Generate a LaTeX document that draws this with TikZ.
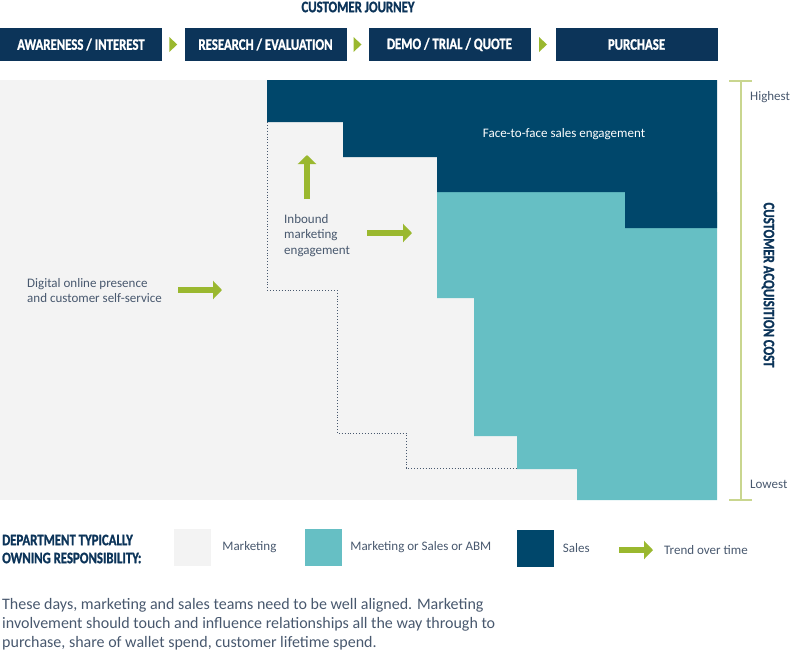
\documentclass[tikz,border=0pt]{standalone}
\usepackage{fontspec}
\setmainfont{Carlito}
\newfontfamily\condfont[FakeStretch=0.8,FakeBold=1.2]{Carlito Bold}
\usepackage{tikz}
\usetikzlibrary{positioning,arrows.meta,calc}
\usepackage{xcolor}
\definecolor{navy}{RGB}{12,52,89}
\definecolor{salesblue}{RGB}{0,71,107}
\definecolor{abmteal}{RGB}{102,191,196}
\definecolor{mktgrey}{RGB}{243,243,243}
\definecolor{trendgreen}{RGB}{154,184,47}
\definecolor{axisgreen}{RGB}{201,214,143}
\definecolor{textgrey}{RGB}{72,88,110}

\begin{document}
\begin{tikzpicture}[x=1pt,y=-1pt,
  hbox/.style={rectangle,fill=navy,text=white,inner sep=0pt,
    font=\condfont\fontsize{16}{18}\selectfont,minimum width=162pt,minimum height=33pt},
  htitle/.style={text=navy,font=\condfont\fontsize{16}{18}\selectfont,inner sep=0pt},
  blab/.style={text=textgrey,font=\fontsize{13}{15.5}\selectfont,align=left,inner sep=0pt},
  lsq/.style={rectangle,minimum width=37pt,minimum height=37pt,inner sep=0pt},
  trend/.style={-{Triangle[width=18pt,length=9pt]},trendgreen,line width=6pt},
  chev/.style={fill=trendgreen}
]
\useasboundingbox (0,0) rectangle (792,667);
% journey header
\node[htitle] (jt) at (358,7) {CUSTOMER JOURNEY};
\node[hbox] (j1) at (81,44.5) {AWARENESS / INTEREST};
\node[hbox] (j2) at (265.5,44.5) {RESEARCH / EVALUATION};
\node[hbox] (j3) at (449.5,44.5) {DEMO / TRIAL / QUOTE};
\node[hbox] (j4) at (636.5,44.5) {PURCHASE};
\foreach \a/\b in {j1/j2,j2/j3,j3/j4}{
  \coordinate (m) at ($(\a.east)!0.5!(\b.west)$);
  \fill[chev] ($(m)+(-4,-7.5)$) -- ($(m)+(4,0)$) -- ($(m)+(-4,7.5)$) -- cycle;
}
% regions
\fill[mktgrey] (0,80) rectangle (717,500);
\fill[abmteal] (437,192) -- (717,192) -- (717,500) -- (577,500) -- (577,469) -- (517,469)
  -- (517,436) -- (474,436) -- (474,298) -- (437,298) -- cycle;
\fill[salesblue] (267,80) -- (717,80) -- (717,228) -- (625,228) -- (625,192) -- (437,192)
  -- (437,157) -- (343,157) -- (343,122) -- (267,122) -- cycle;
\draw[textgrey,dotted,line width=0.9pt] (267,122) -- (267,290) -- (337,290) -- (337,433)
  -- (406,433) -- (406,468) -- (517,468);
% region labels
\node[blab,text=white] (f2f) at (564,134) {Face-to-face sales engagement};
\node[blab,anchor=north west] (inb) at (284,214) {Inbound\\marketing\\engagement};
\node[blab,anchor=north west] (dig) at (27,278) {Digital online presence\\and customer self-service};
% trend arrows
\coordinate (u0) at (307,199); \coordinate (u1) at (307,155);
\coordinate (r0) at (367,233); \coordinate (r1) at (412,233);
\coordinate (d0) at (178,290); \coordinate (d1) at (222,290);
\draw[trend] (u0) -- (u1);
\draw[trend] (r0) -- (r1);
\draw[trend] (d0) -- (d1);
% cost axis
\coordinate (ctop) at (741,81); \coordinate (cbot) at (741,500);
\draw[axisgreen,line width=1.5pt] (ctop) -- (cbot);
\draw[axisgreen,line width=1.5pt] ($(ctop)+(-12,0)$) -- ($(ctop)+(11,0)$);
\draw[axisgreen,line width=1.5pt] ($(cbot)+(-12,0)$) -- ($(cbot)+(11,0)$);
\node[blab,anchor=west] (hi) at (750,97) {Highest};
\node[blab,anchor=west] (lo) at (750,484) {Lowest};
\node[htitle,rotate=-90] (cac) at (768,285) {CUSTOMER ACQUISITION COST};
% legend
\node[htitle,align=left,anchor=west,font=\condfont\fontsize{16}{18}\selectfont] (dept) at (2,549)
  {DEPARTMENT TYPICALLY\\OWNING RESPONSIBILITY:};
\node[lsq,fill=mktgrey] (lgm) at (192.5,547.5) {};
\node[blab,right=11pt of lgm] (lgmt) {Marketing};
\node[lsq,fill=abmteal] (lga) at (323.5,547.5) {};
\node[blab,right=8pt of lga] (lgat) {Marketing or Sales or ABM};
\node[lsq,fill=salesblue] (lgs) at (535,548) {};
\node[blab,right=9pt of lgs] (lgst) {Sales};
\coordinate (t0) at (619,550); \coordinate (t1) at (653,550);
\draw[trend] (t0) -- (t1);
\node[blab,anchor=west] (lgtt) at (664,550) {Trend over time};
% note
\node[blab,anchor=north west,font=\fontsize{16}{19}\selectfont] (note) at (2,598)
  {These days, marketing and sales teams need to be well aligned. Marketing\\
   involvement should touch and influence relationships all the way through to\\
   purchase, share of wallet spend, customer lifetime spend.};
\end{tikzpicture}
\end{document}
